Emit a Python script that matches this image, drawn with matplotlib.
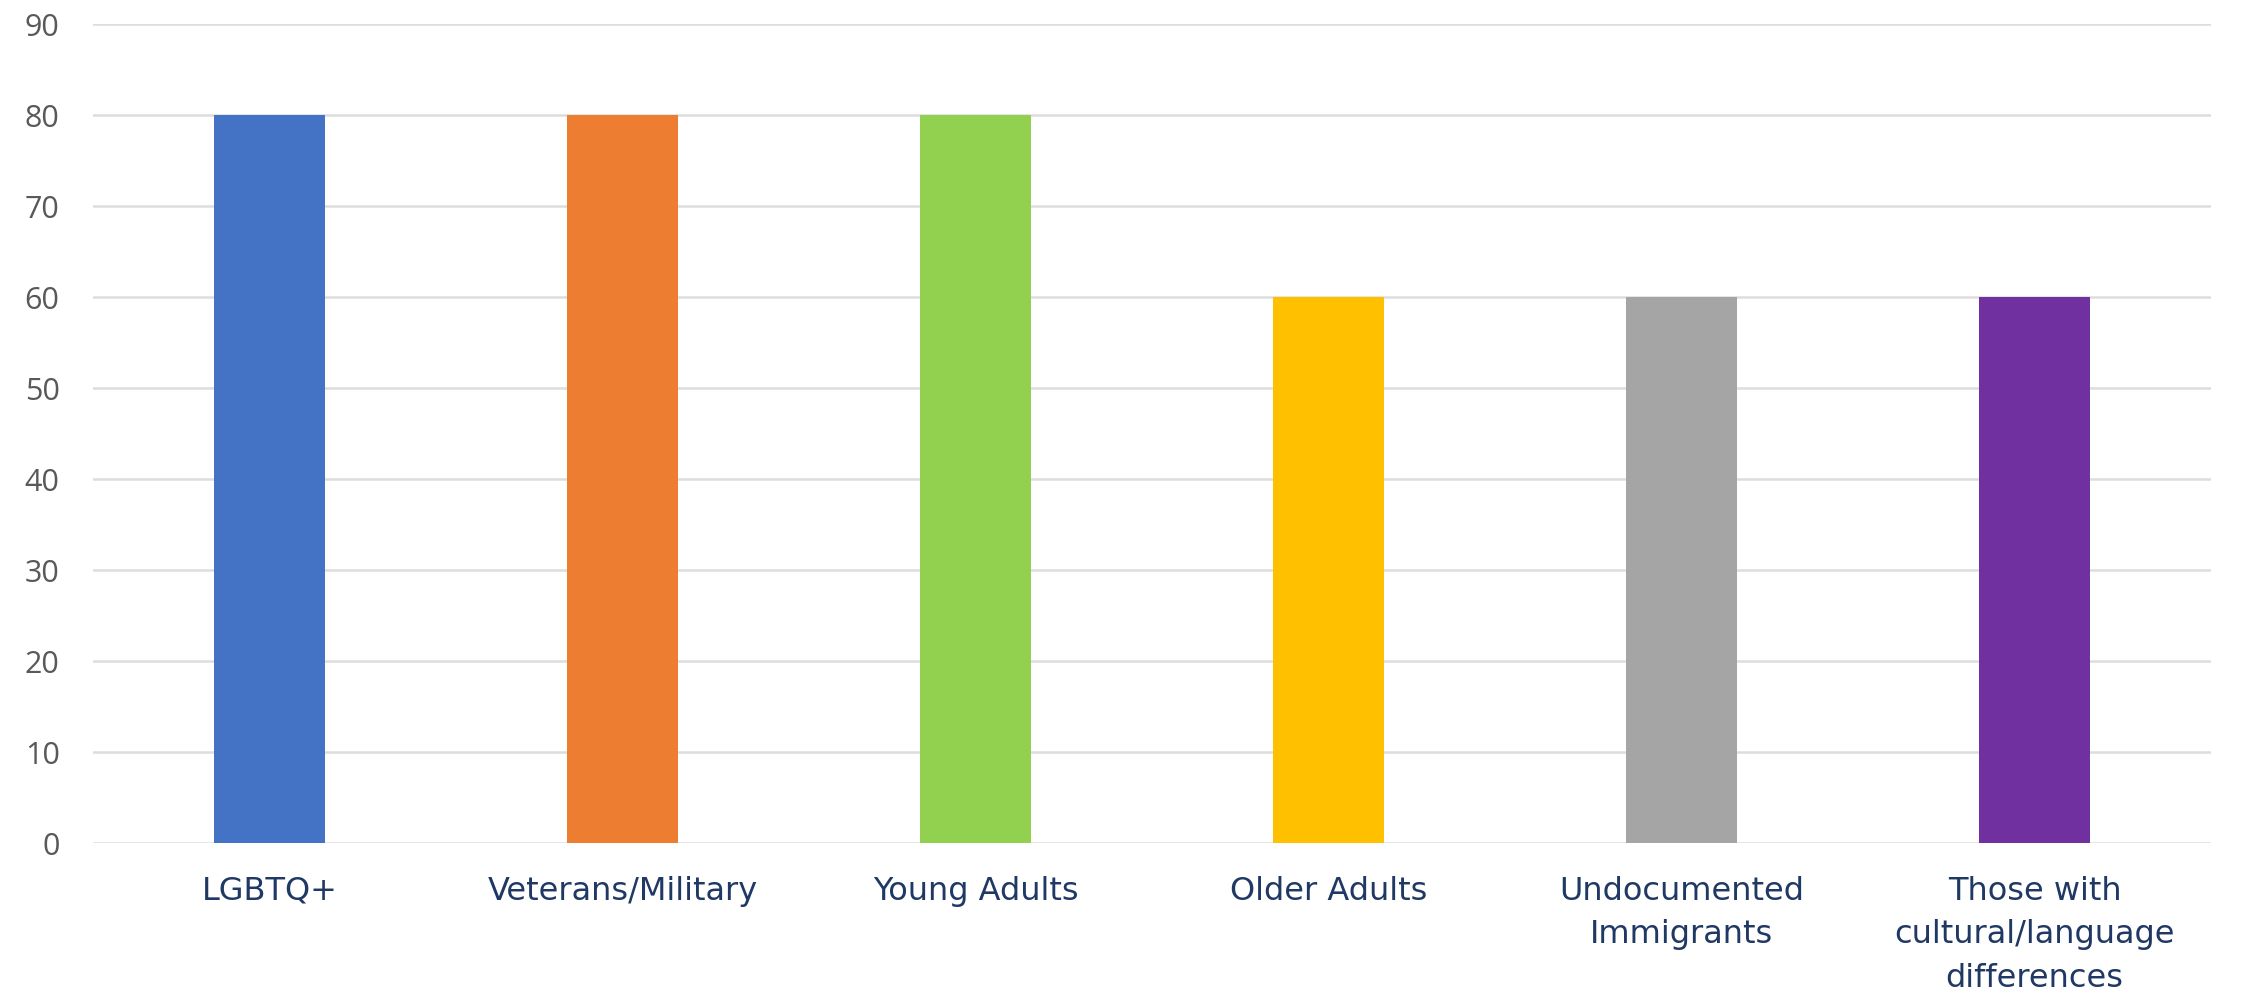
"""Bar chart: share of respondents by population served."""

import matplotlib

matplotlib.use("Agg")
import matplotlib.pyplot as plt

categories = [
    "LGBTQ+",
    "Veterans/Military",
    "Young Adults",
    "Older Adults",
    "Undocumented\nImmigrants",
    "Those with\ncultural/language\ndifferences",
]
values = [80, 80, 80, 60, 60, 60]
bar_colors = ["#4472C4", "#ED7D31", "#92D050", "#FFC000", "#A5A5A5", "#7030A0"]
y_ticks = list(range(0, 100, 10))


def main() -> None:
    fig = plt.figure(figsize=(22.44, 9.95), dpi=100)
    ax = fig.add_axes([0.0414, 0.1518, 0.9439, 0.8231])

    x = range(len(categories))
    ax.bar(x, values, width=0.315, color=bar_colors, zorder=2)

    ax.set_xlim(-0.5, len(categories) - 0.5)
    ax.set_ylim(0, 90)
    ax.set_yticks(y_ticks)
    ax.set_xticks(list(x))
    ax.set_xticklabels(categories, fontsize=23, color="#203864",
                       family=["DejaVu Sans"], linespacing=1.52)
    ax.tick_params(axis="x", length=0, pad=23)
    ax.tick_params(axis="y", length=0, pad=24, labelsize=22, labelcolor="#595959")
    for lbl in ax.get_yticklabels():
        lbl.set_family(["Open Sans", "DejaVu Sans"])

    ax.grid(axis="y", color="#DDDDDD", linewidth=1.8, zorder=0)
    for side in ("top", "right", "left", "bottom"):
        ax.spines[side].set_visible(False)

    fig.savefig("out.png", dpi=100)
    plt.close(fig)


if __name__ == "__main__":
    main()
